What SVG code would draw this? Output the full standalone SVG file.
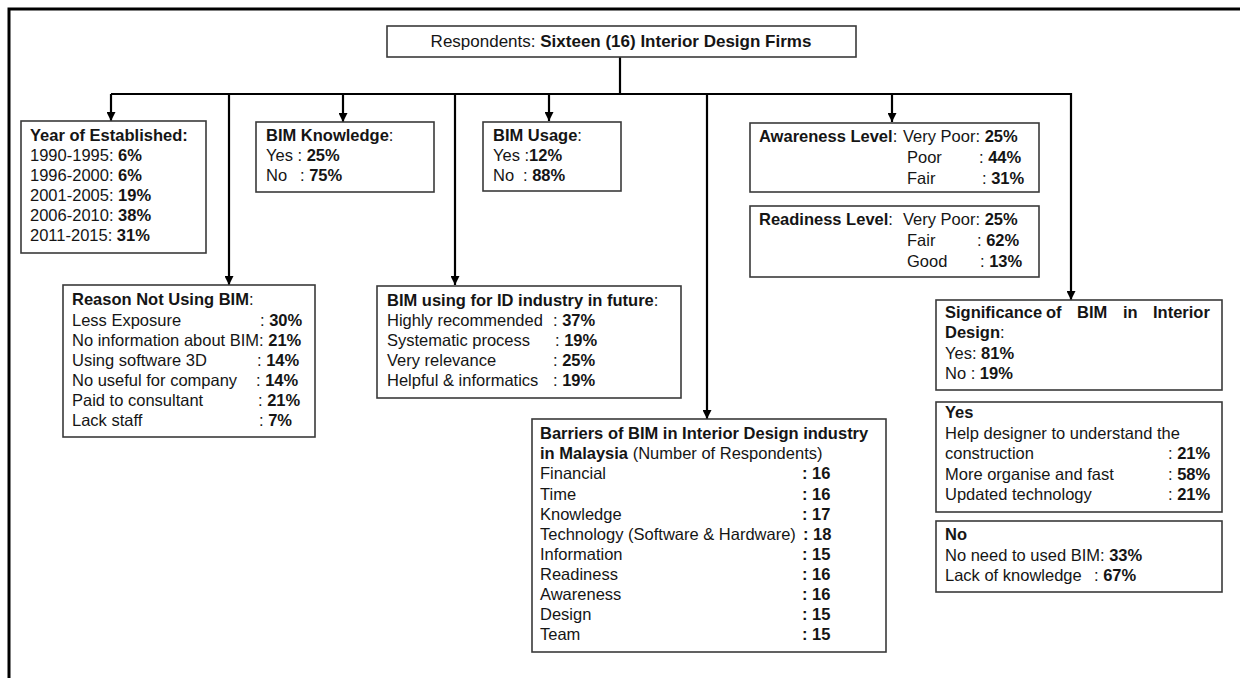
<svg xmlns="http://www.w3.org/2000/svg" width="1240" height="678" viewBox="0 0 1240 678">
<style>
  .bx{fill:#fff;stroke:#3a3a3a;stroke-width:1.6}
  .t{font-family:"Liberation Sans",Arial,sans-serif;font-size:16.5px;fill:#151515}
  .b{font-weight:bold}
  .ln{fill:none;stroke:#000;stroke-width:2.2}
  .fr{fill:none;stroke:#000;stroke-width:3}
</style>
<defs>
  <marker id="ah" viewBox="0 0 10 10" refX="10" refY="5" markerWidth="9" markerHeight="9" markerUnits="userSpaceOnUse" orient="auto">
    <path d="M0,0 L10,5 L0,10 z" fill="#000"/>
  </marker>
</defs>
<rect width="1240" height="678" fill="#fff"/>
<path class="fr" d="M9 678 V9 H1240"/>

<g id="connectors">
  <path class="ln" d="M620 57 V94"/>
  <path class="ln" d="M111 94 H1071 V300" marker-end="url(#ah)"/>
  <path class="ln" d="M111 94 V121" marker-end="url(#ah)"/>
  <path class="ln" d="M229 94 V285" marker-end="url(#ah)"/>
  <path class="ln" d="M343 94 V122" marker-end="url(#ah)"/>
  <path class="ln" d="M455 94 V285" marker-end="url(#ah)"/>
  <path class="ln" d="M549 94 V121" marker-end="url(#ah)"/>
  <path class="ln" d="M707 94 V419" marker-end="url(#ah)"/>
  <path class="ln" d="M892 94 V122" marker-end="url(#ah)"/>
</g>

<g id="title">
  <rect class="bx" x="387" y="26" width="469" height="31"/>
  <text class="t" x="621" y="47" text-anchor="middle" style="font-size:17px">Respondents: <tspan class="b">Sixteen (16) Interior Design Firms</tspan></text>
</g>

<g id="year">
  <rect class="bx" x="21" y="121" width="185" height="132"/>
  <text class="t b" x="30" y="141">Year of Established:</text>
  <text class="t" x="30" y="161">1990-1995: <tspan class="b">6%</tspan></text>
  <text class="t" x="30" y="181">1996-2000: <tspan class="b">6%</tspan></text>
  <text class="t" x="30" y="201">2001-2005: <tspan class="b">19%</tspan></text>
  <text class="t" x="30" y="221">2006-2010: <tspan class="b">38%</tspan></text>
  <text class="t" x="30" y="241">2011-2015: <tspan class="b">31%</tspan></text>
</g>

<g id="knowledge">
  <rect class="bx" x="256" y="122" width="178" height="70"/>
  <text class="t" x="266" y="141"><tspan class="b">BIM Knowledge</tspan>:</text>
  <text class="t" x="266" y="161">Yes : <tspan class="b">25%</tspan></text>
  <text class="t" x="266" y="181">No<tspan x="300">: </tspan><tspan class="b">75%</tspan></text>
</g>

<g id="usage">
  <rect class="bx" x="483" y="122" width="138" height="69"/>
  <text class="t" x="493" y="141"><tspan class="b">BIM Usage</tspan>:</text>
  <text class="t" x="493" y="161">Yes :<tspan class="b">12%</tspan></text>
  <text class="t" x="493" y="181">No<tspan x="523">: </tspan><tspan class="b">88%</tspan></text>
</g>

<g id="awareness">
  <rect class="bx" x="750" y="123" width="289" height="69"/>
  <text class="t" x="759" y="142"><tspan class="b">Awareness Level</tspan>:<tspan x="903">Very Poor: </tspan><tspan class="b">25%</tspan></text>
  <text class="t" x="907" y="163">Poor<tspan x="979">: </tspan><tspan class="b">44%</tspan></text>
  <text class="t" x="907" y="184">Fair<tspan x="982">: </tspan><tspan class="b">31%</tspan></text>
</g>

<g id="readiness">
  <rect class="bx" x="750" y="206" width="289" height="71"/>
  <text class="t" x="759" y="225"><tspan class="b">Readiness Level</tspan>:<tspan x="903">Very Poor: </tspan><tspan class="b">25%</tspan></text>
  <text class="t" x="907" y="246">Fair<tspan x="977">: </tspan><tspan class="b">62%</tspan></text>
  <text class="t" x="907" y="267">Good<tspan x="980">: </tspan><tspan class="b">13%</tspan></text>
</g>

<g id="reason">
  <rect class="bx" x="63" y="285" width="252" height="152"/>
  <text class="t" x="72" y="305"><tspan class="b">Reason Not Using BIM</tspan>:</text>
  <text class="t" x="72" y="326">Less Exposure<tspan x="260">: </tspan><tspan class="b">30%</tspan></text>
  <text class="t" x="72" y="346">No information about BIM: <tspan class="b">21%</tspan></text>
  <text class="t" x="72" y="366">Using software 3D<tspan x="257">: </tspan><tspan class="b">14%</tspan></text>
  <text class="t" x="72" y="386">No useful for company<tspan x="256">: </tspan><tspan class="b">14%</tspan></text>
  <text class="t" x="72" y="406">Paid to consultant<tspan x="258">: </tspan><tspan class="b">21%</tspan></text>
  <text class="t" x="72" y="426">Lack staff<tspan x="259">: </tspan><tspan class="b">7%</tspan></text>
</g>

<g id="future">
  <rect class="bx" x="377" y="286" width="304" height="112"/>
  <text class="t" x="387" y="306"><tspan class="b">BIM using for ID industry in future</tspan>:</text>
  <text class="t" x="387" y="326">Highly recommended<tspan x="553">: </tspan><tspan class="b">37%</tspan></text>
  <text class="t" x="387" y="346">Systematic process<tspan x="555">: </tspan><tspan class="b">19%</tspan></text>
  <text class="t" x="387" y="366">Very relevance<tspan x="553">: </tspan><tspan class="b">25%</tspan></text>
  <text class="t" x="387" y="386">Helpful &amp; informatics<tspan x="553">: </tspan><tspan class="b">19%</tspan></text>
</g>

<g id="barriers">
  <rect class="bx" x="532" y="419" width="354" height="233"/>
  <text class="t b" x="540" y="439">Barriers of BIM in Interior Design industry</text>
  <text class="t" x="540" y="459"><tspan class="b">in Malaysia</tspan> (Number of Respondents)</text>
  <text class="t" x="540" y="479">Financial<tspan class="b" x="802">: 16</tspan></text>
  <text class="t" x="540" y="500">Time<tspan class="b" x="802">: 16</tspan></text>
  <text class="t" x="540" y="520">Knowledge<tspan class="b" x="802">: 17</tspan></text>
  <text class="t" x="540" y="540">Technology (Software &amp; Hardware)<tspan class="b" x="803">: 18</tspan></text>
  <text class="t" x="540" y="560">Information<tspan class="b" x="802">: 15</tspan></text>
  <text class="t" x="540" y="580">Readiness<tspan class="b" x="802">: 16</tspan></text>
  <text class="t" x="540" y="600">Awareness<tspan class="b" x="802">: 16</tspan></text>
  <text class="t" x="540" y="620">Design<tspan class="b" x="802">: 15</tspan></text>
  <text class="t" x="540" y="640">Team<tspan class="b" x="802">: 15</tspan></text>
</g>

<g id="significance">
  <rect class="bx" x="936" y="300" width="286" height="90"/>
  <text class="t b" y="318"><tspan x="945">Significance</tspan><tspan x="1046">of</tspan><tspan x="1077">BIM</tspan><tspan x="1123">in</tspan><tspan x="1153">Interior</tspan></text>
  <text class="t" x="945" y="338"><tspan class="b">Design</tspan>:</text>
  <text class="t" x="945" y="359">Yes: <tspan class="b">81%</tspan></text>
  <text class="t" x="945" y="379">No : <tspan class="b">19%</tspan></text>
</g>

<g id="sig-yes">
  <rect class="bx" x="936" y="402" width="286" height="110"/>
  <text class="t b" x="945" y="418">Yes</text>
  <text class="t" x="945" y="439">Help designer to understand the</text>
  <text class="t" x="945" y="459">construction<tspan x="1168">: </tspan><tspan class="b">21%</tspan></text>
  <text class="t" x="945" y="480">More organise and fast<tspan x="1168">: </tspan><tspan class="b">58%</tspan></text>
  <text class="t" x="945" y="500">Updated technology<tspan x="1168">: </tspan><tspan class="b">21%</tspan></text>
</g>

<g id="sig-no">
  <rect class="bx" x="936" y="521" width="286" height="71"/>
  <text class="t b" x="945" y="540">No</text>
  <text class="t" x="945" y="561">No need to used BIM: <tspan class="b">33%</tspan></text>
  <text class="t" x="945" y="581">Lack of knowledge<tspan x="1094">: </tspan><tspan class="b">67%</tspan></text>
</g>
</svg>
